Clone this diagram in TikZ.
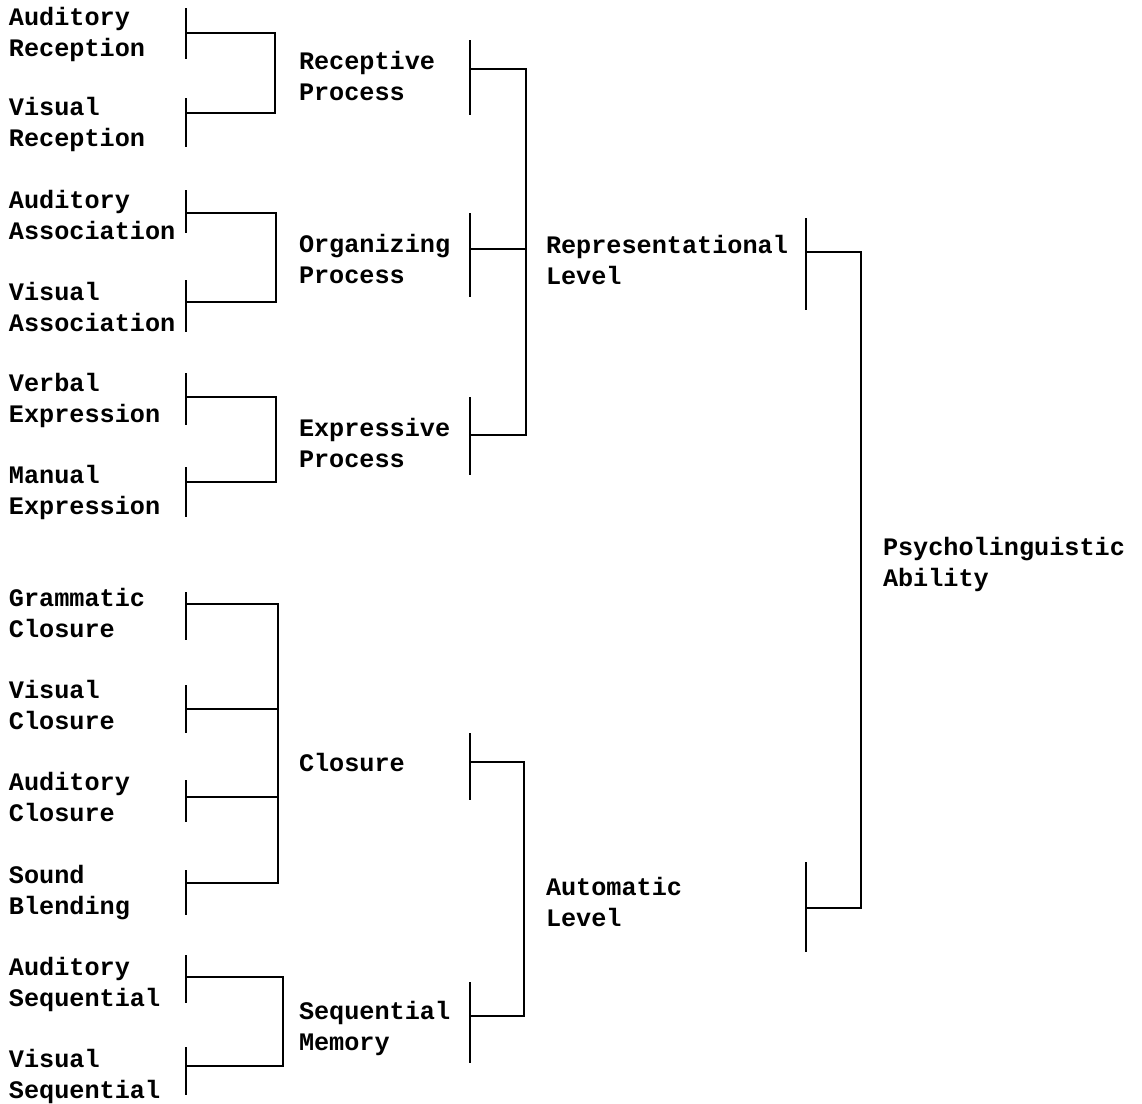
\documentclass[tikz,border=0pt]{standalone}
\usepackage{fontspec}
\setmonofont{Liberation Mono}
\usepackage{tikz}

\begin{document}
\begin{tikzpicture}[x=0.5pt, y=-0.5pt, line width=1pt,
  lbl/.style={anchor=base west, inner sep=0pt, align=left,
    font=\ttfamily\bfseries\fontsize{12.6}{15.5}\selectfont},
  bar/.style={line width=1.2pt}]
  \useasboundingbox (0,0) rectangle (1142,1104);
  % labels
  \node [lbl] (audrec) at (8,56) {Auditory\\Reception};
  \node [lbl] (visrec) at (8,146) {Visual\\Reception};
  \node [lbl] (audass) at (8,239) {Auditory\\Association};
  \node [lbl] (visass) at (8,331) {Visual\\Association};
  \node [lbl] (verbexp) at (8,422) {Verbal\\Expression};
  \node [lbl] (manexp) at (8,514) {Manual\\Expression};
  \node [lbl] (gramclo) at (8,637) {Grammatic\\Closure};
  \node [lbl] (visclo) at (8,729) {Visual\\Closure};
  \node [lbl] (audclo) at (8,821) {Auditory\\Closure};
  \node [lbl] (sndblend) at (8,914) {Sound\\Blending};
  \node [lbl] (audseq) at (8,1006) {Auditory\\Sequential};
  \node [lbl] (visseq) at (8,1098) {Visual\\Sequential};
  \node [lbl] (recproc) at (298,100) {Receptive\\Process};
  \node [lbl] (orgproc) at (298,283) {Organizing\\Process};
  \node [lbl] (expproc) at (298,467) {Expressive\\Process};
  \node [lbl] (closure) at (298,771) {Closure};
  \node [lbl] (seqmem) at (298,1050) {Sequential\\Memory};
  \node [lbl] (replevel) at (545,284) {Representational\\Level};
  \node [lbl] (autolevel) at (545,926) {Automatic\\Level};
  \node [lbl] (psyabil) at (882,586) {Psycholinguistic\\Ability};
  % bars
  \draw [bar] (186,8) -- (186,59);
  \draw [bar] (186,98) -- (186,147);
  \draw [bar] (186,190) -- (186,233);
  \draw [bar] (186,280) -- (186,332);
  \draw [bar] (186,373) -- (186,425);
  \draw [bar] (186,467) -- (186,517);
  \draw [bar] (186,592) -- (186,640);
  \draw [bar] (186,685) -- (186,733);
  \draw [bar] (186,780) -- (186,822);
  \draw [bar] (186,870) -- (186,915);
  \draw [bar] (186,955) -- (186,1003);
  \draw [bar] (186,1047) -- (186,1095);
  \draw [bar] (470,40) -- (470,115);
  \draw [bar] (470,213) -- (470,297);
  \draw [bar] (470,397) -- (470,475);
  \draw [bar] (470,733) -- (470,800);
  \draw [bar] (470,982) -- (470,1063);
  \draw [bar] (806,218) -- (806,310);
  \draw [bar] (806,862) -- (806,952);
  % connectors
  \coordinate (audrec-c) at (186,33);
  \coordinate (visrec-c) at (186,113);
  \coordinate (audass-c) at (186,213);
  \coordinate (visass-c) at (186,302);
  \coordinate (verbexp-c) at (186,397);
  \coordinate (manexp-c) at (186,482);
  \coordinate (gramclo-c) at (186,604);
  \coordinate (visclo-c) at (186,709);
  \coordinate (audclo-c) at (186,797);
  \coordinate (sndblend-c) at (186,883);
  \coordinate (audseq-c) at (186,977);
  \coordinate (visseq-c) at (186,1066);
  \coordinate (recproc-c) at (470,69);
  \coordinate (orgproc-c) at (470,249);
  \coordinate (expproc-c) at (470,435);
  \coordinate (closure-c) at (470,762);
  \coordinate (seqmem-c) at (470,1016);
  \coordinate (replevel-c) at (806,252);
  \coordinate (autolevel-c) at (806,908);
  \draw (audrec-c) -- ++(89,0) |- (visrec-c);
  \draw (audass-c) -- ++(90,0) |- (visass-c);
  \draw (verbexp-c) -- ++(90,0) |- (manexp-c);
  \draw (gramclo-c) -- ++(92,0) |- (sndblend-c);
  \draw (visclo-c) -- ++(92,0);
  \draw (audclo-c) -- ++(92,0);
  \draw (audseq-c) -- ++(97,0) |- (visseq-c);
  \draw (recproc-c) -- ++(56,0) |- (expproc-c);
  \draw (orgproc-c) -- ++(56,0);
  \draw (closure-c) -- ++(54,0) |- (seqmem-c);
  \draw (replevel-c) -- ++(55,0) |- (autolevel-c);
\end{tikzpicture}
\end{document}
